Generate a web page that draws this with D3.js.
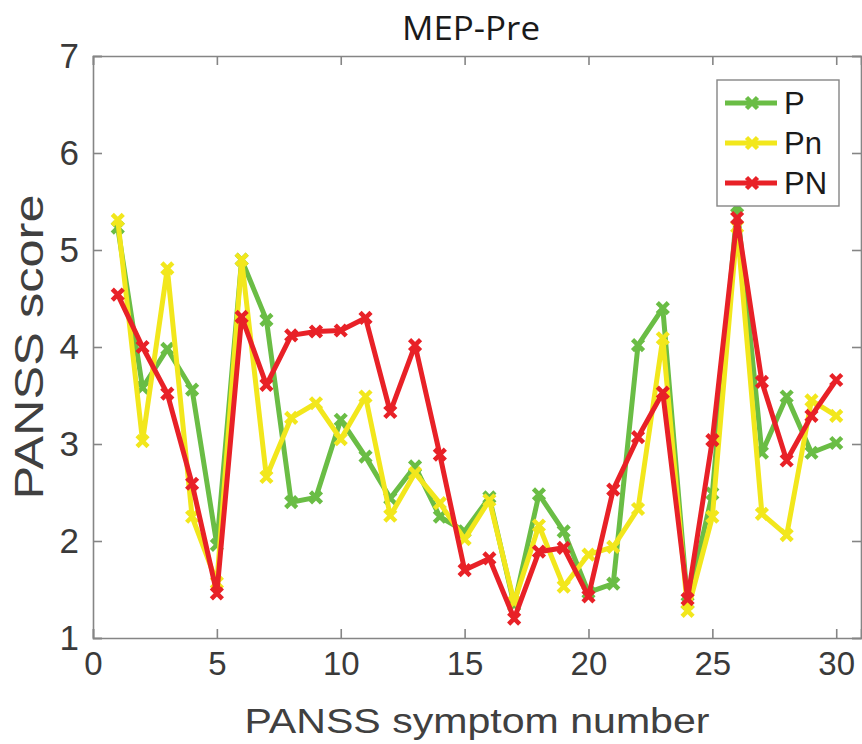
<!DOCTYPE html>
<html>
<head>
<meta charset="utf-8">
<script src="https://cdn.jsdelivr.net/npm/d3@7"></script>
<style>
	body { margin: 0; background: #fff; }
	svg { display: block; }
</style>
</head>
<body>
<script>

var symptoms = d3.range(1, 31);
var seriesNames = ["P", "Pn", "PN"];
var seriesColors = ["#6abd45", "#f2e71c", "#e82127"];

var P = [5.23, 3.58, 3.98, 3.56, 1.96, 4.90, 4.28, 2.40, 2.45, 3.25,
	2.87, 2.44, 2.77, 2.25, 2.10, 2.45, 1.34, 2.48, 2.10, 1.47,
	1.56, 4.02, 4.40, 1.36, 2.49, 5.45, 2.91, 3.49, 2.91, 3.01];
var Pn = [5.31, 3.03, 4.81, 2.25, 1.57, 4.90, 2.66, 3.27, 3.42, 3.05,
	3.49, 2.26, 2.70, 2.39, 2.02, 2.42, 1.37, 2.16, 1.53, 1.86,
	1.94, 2.33, 4.09, 1.28, 2.25, 5.24, 2.28, 2.06, 3.45, 3.29];
var PN = [4.54, 4.00, 3.52, 2.59, 1.46, 4.31, 3.61, 4.12, 4.16, 4.17,
	4.30, 3.33, 4.02, 2.89, 1.70, 1.82, 1.20, 1.89, 1.93, 1.43,
	2.53, 3.07, 3.53, 1.40, 3.04, 5.33, 3.64, 2.83, 3.29, 3.66];

var xTicks = [0, 5, 10, 15, 20, 25, 30];
var yTicks = [1, 2, 3, 4, 5, 6, 7];

function draw() {
	var left = 93, right = 861, top = 56, bottom = 638;
	var svg = d3.select("body").append("svg")
		.attr("width", 862)
		.attr("height", 744);

	var x = d3.scaleLinear().domain([0, 31]).range([left, right]);
	var y = d3.scaleLinear().domain([1, 7]).range([bottom, top]);

	// axes, ticks pointing inward like matlab
	var axisColor = "#858585";
	var fmt = d3.format("d");
	svg.append("g")
		.attr("class", "xaxis")
		.attr("transform", "translate(0," + bottom + ")")
		.call(d3.axisBottom(x).tickValues(xTicks).tickSize(-9).tickPadding(14).tickFormat(fmt));
	svg.append("g")
		.attr("transform", "translate(0," + top + ")")
		.call(d3.axisTop(x).tickValues(xTicks).tickSize(-9).tickFormat(""));
	svg.append("g")
		.attr("class", "yaxis")
		.attr("transform", "translate(" + left + ",0)")
		.call(d3.axisLeft(y).tickValues(yTicks).tickSize(-9).tickPadding(14).tickFormat(fmt));
	svg.append("g")
		.attr("transform", "translate(" + right + ",0)")
		.call(d3.axisRight(y).tickValues(yTicks).tickSize(-9).tickFormat(""));

	svg.selectAll(".domain, .tick line")
		.attr("stroke", axisColor)
		.attr("stroke-width", 1.6);
	svg.selectAll(".tick text")
		.attr("fill", "#3a3a3a")
		.attr("font-family", "Liberation Sans, Arial, sans-serif")
		.attr("font-size", 33);
	svg.selectAll(".yaxis .tick text").attr("font-size", 35);

	// series
	var data = [P, Pn, PN];
	var line = d3.line()
		.x(function(d, i) { return x(symptoms[i]); })
		.y(function(d) { return y(d); });

	var groups = svg.selectAll("g.series")
		.data(data)
		.enter().append("g")
			.attr("class", "series")
			.attr("stroke", function(d, i) { return seriesColors[i]; });

	groups.append("path")
		.attr("d", line)
		.attr("fill", "none")
		.attr("stroke-width", 5)
		.attr("stroke-linejoin", "round");

	var m = 5.5;
	groups.selectAll("path.mark")
		.data(function(d) { return d; })
		.enter().append("path")
			.attr("class", "mark")
			.attr("fill", "none")
			.attr("stroke-width", 4.5)
			.attr("d", function(d, i) {
				var cx = x(symptoms[i]), cy = y(d);
				return "M" + (cx - m) + "," + (cy - m) + "L" + (cx + m) + "," + (cy + m) +
					"M" + (cx - m) + "," + (cy + m) + "L" + (cx + m) + "," + (cy - m);
			});

	// legend
	var lg = svg.append("g");
	lg.append("rect")
		.attr("x", 717)
		.attr("y", 80)
		.attr("width", 122)
		.attr("height", 126)
		.attr("fill", "#fff")
		.attr("stroke", axisColor)
		.attr("stroke-width", 1.4);
	var items = lg.selectAll("g.item")
		.data(seriesNames)
		.enter().append("g")
			.attr("class", "item")
			.attr("transform", function(d, i) { return "translate(0," + (103 + i * 40) + ")"; });
	items.append("line")
		.attr("x1", 725).attr("x2", 777)
		.attr("y1", 0).attr("y2", 0)
		.attr("stroke", function(d, i) { return seriesColors[i]; })
		.attr("stroke-width", 5);
	items.append("path")
		.attr("fill", "none")
		.attr("stroke", function(d, i) { return seriesColors[i]; })
		.attr("stroke-width", 4.5)
		.attr("d", "M" + (752 - m) + "," + (-m) + "L" + (752 + m) + "," + m +
			"M" + (752 - m) + "," + m + "L" + (752 + m) + "," + (-m));
	items.append("text")
		.attr("x", 784)
		.attr("y", 11)
		.attr("font-family", "Liberation Sans, Arial, sans-serif")
		.attr("font-size", 31)
		.attr("fill", "#1a1a1a")
		.text(function(d) { return d; });

	// titles
	svg.append("text")
		.attr("x", 471)
		.attr("y", 40)
		.attr("text-anchor", "middle")
		.attr("font-family", "Open Sans, sans-serif")
		.attr("font-size", 32)
		.attr("textLength", 138)
		.attr("lengthAdjust", "spacingAndGlyphs")
		.attr("fill", "#1a1a1a")
		.text("MEP-Pre");

	svg.append("text")
		.attr("x", 477)
		.attr("y", 733)
		.attr("text-anchor", "middle")
		.attr("font-family", "Liberation Sans, Arial, sans-serif")
		.attr("font-size", 35)
		.attr("textLength", 465)
		.attr("lengthAdjust", "spacingAndGlyphs")
		.attr("fill", "#404040")
		.text("PANSS symptom number");

	svg.append("text")
		.attr("transform", "translate(43,347) rotate(-90)")
		.attr("text-anchor", "middle")
		.attr("font-family", "Liberation Sans, Arial, sans-serif")
		.attr("font-size", 41)
		.attr("textLength", 305)
		.attr("lengthAdjust", "spacingAndGlyphs")
		.attr("fill", "#404040")
		.text("PANSS score");
}

window.onload = function(e) {
	draw();
}
</script>
</body>
</html>
